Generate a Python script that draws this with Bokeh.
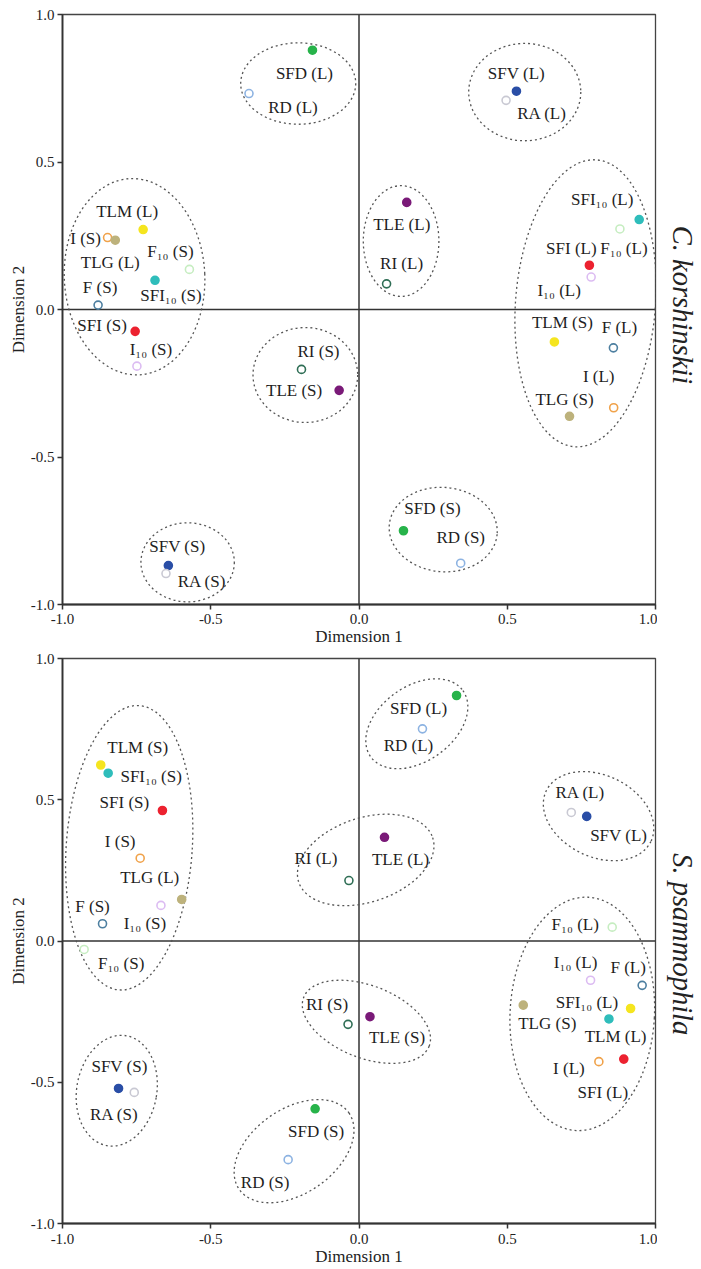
from bokeh.plotting import figure
from bokeh.models import ColumnDataSource, Range1d, FixedTicker, NumeralTickFormatter, Span
from bokeh.layouts import column, row
from bokeh.core.properties import value
from bokeh.embed import file_html
from bokeh.resources import INLINE

# ---------------- data ----------------
traits = ["SFD", "RD", "SFV", "RA", "TLE", "RI", "TLM", "I", "TLG",
          "F\u2081\u2080", "SFI\u2081\u2080", "F", "SFI", "I\u2081\u2080"]
filled = [True, False, True, False, True, False, True, False, True,
          False, True, False, True, False]
trait_colors = ["#27b34a", "#8db3e2", "#2a4ea6", "#c9c9d3", "#7a1a78", "#2f6e55",
                "#f5e51f", "#f0a24a", "#bdb27c", "#c6edc1", "#2fbdbb", "#4d7fa0",
                "#ec2230", "#dcbcf2"]

# C. korshinskii
ck_L_x = [-0.157, -0.371, 0.531, 0.496, 0.161, 0.093, -0.728, 0.859, -0.822, 0.880, 0.945, 0.858, 0.777, 0.783]
ck_L_y = [0.879, 0.732, 0.740, 0.709, 0.363, 0.087, 0.271, -0.333, 0.235, 0.273, 0.305, -0.130, 0.150, 0.110]
ck_S_x = [0.150, 0.343, -0.643, -0.651, -0.067, -0.194, 0.659, -0.848, 0.710, -0.572, -0.688, -0.880, -0.755, -0.749]
ck_S_y = [-0.750, -0.860, -0.868, -0.895, -0.274, -0.203, -0.110, 0.244, -0.362, 0.136, 0.099, 0.015, -0.074, -0.192]

# S. psammophila
sp_L_x = [0.329, 0.214, 0.768, 0.716, 0.086, -0.034, 0.916, 0.809, -0.598, 0.854, 0.843, 0.955, 0.893, 0.781]
sp_L_y = [0.869, 0.751, 0.441, 0.455, 0.367, 0.214, -0.239, -0.427, 0.147, 0.049, -0.276, -0.157, -0.418, -0.139]
sp_S_x = [-0.148, -0.239, -0.811, -0.758, 0.037, -0.037, -0.871, -0.738, 0.554, -0.927, -0.846, -0.865, -0.663, -0.668]
sp_S_y = [-0.594, -0.774, -0.522, -0.536, -0.268, -0.295, 0.623, 0.293, -0.227, -0.030, 0.594, 0.061, 0.462, 0.126]

species_names = ["C. korshinskii", "S. psammophila"]

# label offsets (screen px), order: trait (L), trait (S) ...
ck_label_dx = [-8, 29, 44, 0, 0, 9, 36, 36, -5, -45, 15, 17, -16, 8,
               -15, -22, -5, -5, 4, -19, -37, 16, 6, 2, -18, -33, -32, 14]
ck_label_dy = [23, -22, 14, -26, -18, -19, 13, 8, 22, 0, -20, -18, -18, -19,
               -31, 1, 22, -17, 20, -18, -20, 15, -20, -18, -17, -6, 13, -17]
sp_label_dx = [-38, 1, -14, -23, 32, 1, 9, -20, 16, 27, -33, -21, -15, 37,
               -30, -20, -32, 24, -37, 37, -22, 43, -14, -10, -21, -38, -15, -16]
sp_label_dy = [13, 23, 17, 23, 19, -22, -20, 22, 22, 21, -22, -20, 28, -18,
               7, -17, -22, 18, -3, 14, -16, 3, -18, -17, 33, -8, -18, 18]

# grouping ellipses (data units): centre x, centre y, width, height, angle (deg)
ck_ell_x = [-0.205, 0.559, 0.142, 0.764, -0.757, -0.181, -0.578, 0.284]
ck_ell_y = [0.766, 0.737, 0.232, 0.021, 0.111, -0.222, -0.857, -0.746]
ck_ell_w = [0.388, 0.378, 0.255, 0.472, 0.474, 0.353, 0.315, 0.365]
ck_ell_h = [0.276, 0.330, 0.376, 0.976, 0.666, 0.322, 0.268, 0.286]
ck_ell_a = [0, 0, 0, -4.4, 2.5, 0, 0, -5]

sp_ell_x = [0.195, 0.808, 0.0226, -0.775, 0.753, 0.025, -0.817, -0.219]
sp_ell_y = [0.769, 0.442, 0.287, 0.330, -0.258, -0.286, -0.530, -0.744]
sp_ell_w = [0.383, 0.392, 0.476, 0.425, 0.487, 0.454, 0.270, 0.451]
sp_ell_h = [0.265, 0.289, 0.298, 1.009, 0.827, 0.256, 0.395, 0.299]
sp_ell_a = [35.7, -25.8, 18.4, -4, -3, -21.2, -10, 34.9]

ticks = [-1.0, -0.5, 0.0, 0.5, 1.0]

SERIF = "Liberation Serif"


def make_panel(Lx, Ly, Sx, Sy, ldx, ldy, ex, ey, ew, eh, ea,
               frame_h, top, bottom, xlab_standoff):
    names, xs, ys, fills, lines = [], [], [], [], []
    for i, t in enumerate(traits):
        for suf, xv, yv in (("L", Lx[i], Ly[i]), ("S", Sx[i], Sy[i])):
            names.append(f"{t} ({suf})")
            xs.append(xv)
            ys.append(yv)
            lines.append(trait_colors[i])
            fills.append(trait_colors[i] if filled[i] else "white")
    src = ColumnDataSource(dict(x=xs, y=ys, name=names, fill=fills, line=lines,
                                dx=ldx, dy=ldy))

    p = figure(frame_width=593, frame_height=frame_h, output_backend="svg",
               toolbar_location=None, x_range=Range1d(-1, 1), y_range=Range1d(-1, 1),
               min_border_left=62, min_border_right=2,
               min_border_top=top, min_border_bottom=bottom)
    p.grid.visible = False
    p.background_fill_color = "white"
    p.border_fill_color = "white"
    p.outline_line_color = "#444444"
    p.outline_line_width = 1.3

    for ax in (p.xaxis, p.yaxis):
        ax.ticker = FixedTicker(ticks=ticks)
        ax.formatter = NumeralTickFormatter(format="0.0")
        ax.minor_tick_line_color = None
        ax.major_tick_out = 5
        ax.major_tick_in = 0
        ax.axis_line_color = "#333333"
        ax.axis_line_width = 1.8
        ax.major_tick_line_color = "#333333"
        ax.major_tick_line_width = 1.5
        ax.major_label_text_font = SERIF
        ax.major_label_text_font_size = "15px"
        ax.major_label_text_color = "#222222"
        ax.axis_label_text_font = SERIF
        ax.axis_label_text_font_style = "normal"
        ax.axis_label_text_font_size = "17px"
        ax.axis_label_text_color = "#222222"
    p.xaxis.axis_label = "Dimension 1"
    p.yaxis.axis_label = "Dimension 2"
    p.xaxis.major_label_standoff = xlab_standoff
    p.xaxis.axis_label_standoff = 0
    p.yaxis.major_label_standoff = 3
    p.yaxis.axis_label_standoff = 0

    p.add_layout(Span(location=0, dimension="height", line_color="#333333",
                      line_width=1.5, level="underlay"))
    p.add_layout(Span(location=0, dimension="width", line_color="#333333",
                      line_width=1.5, level="underlay"))

    p.ellipse(x=ex, y=ey, width=ew, height=eh, angle=ea, angle_units="deg",
              fill_color=None, line_color="#555555", line_dash="2 3", line_width=1.3)

    p.scatter(x="x", y="y", source=src, size=8, fill_color="fill", line_color="line",
              line_width=1.6)
    p.text(x="x", y="y", text="name", source=src, x_offset="dx", y_offset="dy",
           text_align="center", text_baseline="middle",
           text_font=value(SERIF), text_font_size="17px", text_color="#1e1e1e")
    return p


def species_strip(name, height, text_y):
    s = figure(width=44, height=height, output_backend="svg", toolbar_location=None,
               x_range=Range1d(0, 44), y_range=Range1d(0, height),
               x_axis_type=None, y_axis_type=None, min_border=0)
    s.outline_line_color = None
    s.grid.visible = False
    s.text(x=[25], y=[text_y], text=[name], angle=-90, angle_units="deg",
           text_align="center", text_baseline="middle",
           text_font=value(SERIF), text_font_style="italic",
           text_font_size="28.5px", text_color="#222222")
    return s


p1 = make_panel(ck_L_x, ck_L_y, ck_S_x, ck_S_y, ck_label_dx, ck_label_dy,
                ck_ell_x, ck_ell_y, ck_ell_w, ck_ell_h, ck_ell_a,
                590, 14, 46, 4)
p2 = make_panel(sp_L_x, sp_L_y, sp_S_x, sp_S_y, sp_label_dx, sp_label_dy,
                sp_ell_x, sp_ell_y, sp_ell_w, sp_ell_h, sp_ell_a,
                565, 8, 46, 5)
s1 = species_strip(species_names[0], 650, 650 - 320)
s2 = species_strip(species_names[1], 619, 619 - 313)

layout = column(row(p1, s1), row(p2, s2))
open("out.html", "w").write(file_html(layout, INLINE))
